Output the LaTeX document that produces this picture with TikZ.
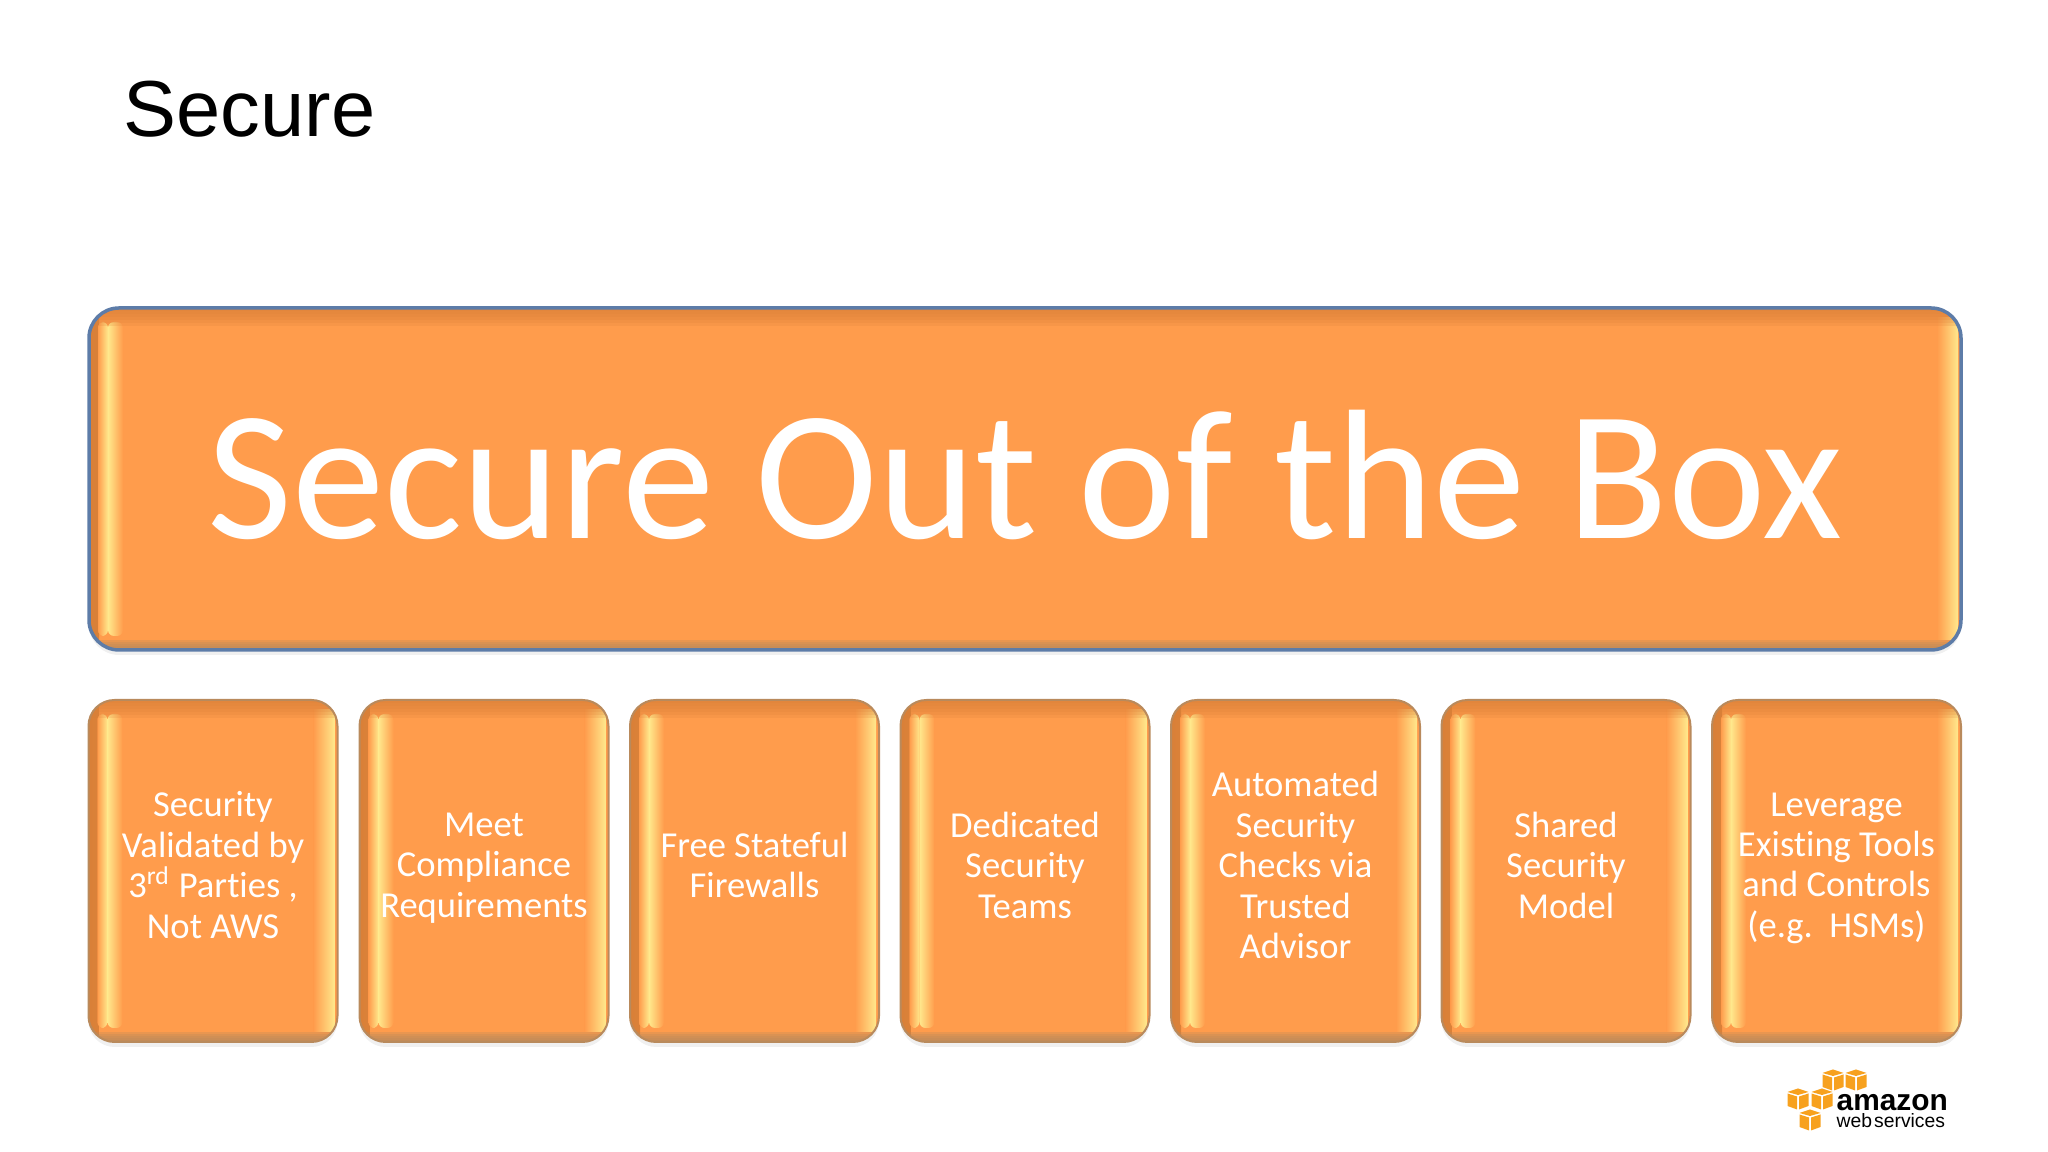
\documentclass[tikz,border=0pt]{standalone}
\usepackage{fontspec}
\setmainfont[Ligatures=NoCommon]{Carlito}
\newfontfamily\arialfont{Liberation Sans}
\usetikzlibrary{calc,shadows}

\definecolor{boxorange}{HTML}{FF9C4C}
\definecolor{boxedge}{HTML}{B98A5C}
\definecolor{boxblue}{HTML}{5D7CA8}
\definecolor{boxglow}{HTML}{FFE88C}
\definecolor{boxdark}{HTML}{D98038}
\definecolor{cubeorange}{HTML}{F7A11E}

\begin{document}
\begin{tikzpicture}[
    % gloss on the left and right side of a box, dark band on top
    gloss/.style = {path picture={
        \fill [left color=boxdark, right color=boxorange, sharp corners]
            (path picture bounding box.south west) rectangle
            ($(path picture bounding box.north west)+(.1cm,0)$);
        \fill [left color=boxorange, right color=boxglow, rounded corners=.06cm]
            ($(path picture bounding box.south west)+(.09cm,.14cm)$) rectangle
            ($(path picture bounding box.north west)+(.19cm,-.14cm)$);
        \fill [left color=boxglow, right color=boxorange, rounded corners=.06cm]
            ($(path picture bounding box.south west)+(.19cm,.14cm)$) rectangle
            ($(path picture bounding box.north west)+(.34cm,-.14cm)$);
        \fill [left color=boxorange, right color=boxglow, sharp corners]
            ($(path picture bounding box.south east)+(-.24cm,.1cm)$) rectangle
            ($(path picture bounding box.north east)+(-.03cm,-.1cm)$);
        \foreach \h in {.03,.06,.09,.12,.15,.18}
            \fill [boxdark, opacity=.2, sharp corners]
                (path picture bounding box.north west) rectangle
                ($(path picture bounding box.north east)+(0,-\h cm)$);
        \foreach \h in {.02,.04,.06,.08,.1}
            \fill [boxedge, opacity=.3, sharp corners]
                (path picture bounding box.south west) rectangle
                ($(path picture bounding box.south east)+(0,\h cm)$);
    }},
    bigbox/.style = {draw=boxblue, line width=.35mm, fill=boxorange, rounded corners=.3cm,
        gloss, text=white, minimum width=18.72cm, minimum height=3.42cm,
        drop shadow={shadow xshift=0cm, shadow yshift=-.05cm, opacity=.12},
        font=\fontsize{52.6}{60}\selectfont},
    tile/.style = {draw=boxedge, line width=.2mm, fill=boxorange, rounded corners=.26cm,
        gloss, text=white, minimum width=2.49cm, minimum height=3.42cm, align=center,
        drop shadow={shadow xshift=0cm, shadow yshift=-.05cm, opacity=.12},
        execute at begin node=\rule{0pt}{3.83mm}, execute at end node=\strut,
        font=\fontsize{10.4}{11.5}\selectfont},
    cube/.pic = {
        \fill [cubeorange] (-.105,.07) -- (0,.105) -- (.105,.07) -- (0,.04) -- cycle;
        \fill [cubeorange] (-.105,.055) -- (-.01,.025) -- (-.01,-.105) -- (-.105,-.07) -- cycle;
        \fill [cubeorange] (.105,.055) -- (.01,.025) -- (.01,-.105) -- (.105,-.07) -- cycle;
    }
    ]

    \useasboundingbox (0cm, 0cm) rectangle (20.48cm, 11.52cm);

    \coordinate (T1) at (2.13cm, 2.81cm);
    \coordinate (T2) at (4.84cm, 2.81cm);
    \coordinate (T3) at (7.545cm, 2.81cm);
    \coordinate (T4) at (10.25cm, 2.81cm);
    \coordinate (T5) at (12.955cm, 2.81cm);
    \coordinate (T6) at (15.66cm, 2.81cm);
    \coordinate (T7) at (18.365cm, 2.81cm);

    % title
    \node (Title) [anchor=base west, inner sep=0pt, font=\arialfont\fontsize{22.6}{26}\selectfont]
        at (1.23cm, 10.15cm) {Secure};

    % boxes
    \node (Main) [bigbox] at (10.25cm, 6.73cm) {\raisebox{.09cm}{Secure Out of the Box}};

    \node (Tile1) [tile] at (T1) {Security\\Validated by\\3\textsuperscript{rd} Parties ,\\Not AWS};
    \node (Tile2) [tile] at (T2) {Meet\\Compliance\\Requirements};
    \node (Tile3) [tile] at (T3) {Free Stateful\\Firewalls};
    \node (Tile4) [tile] at (T4) {Dedicated\\Security\\Teams};
    \node (Tile5) [tile] at (T5) {Automated\\Security\\Checks via\\Trusted\\Advisor};
    \node (Tile6) [tile] at (T6) {Shared\\Security\\Model};
    \node (Tile7) [tile] at (T7) {Leverage\\Existing Tools\\and Controls\\(e.g.\ \ HSMs)};

    % logo
    \pic at (18.33cm, 0.72cm) {cube};
    \pic at (18.56cm, 0.72cm) {cube};
    \pic at (17.98cm, 0.53cm) {cube};
    \pic at (18.22cm, 0.53cm) {cube};
    \pic at (18.10cm, 0.32cm) {cube};
    \node (Amazon) [anchor=base west, inner sep=0pt, font=\arialfont\bfseries\fontsize{8.5}{10}\selectfont]
        at (18.36cm, 0.41cm) {amazon};
    \node (Services) [anchor=base west, inner sep=0pt, font=\arialfont\fontsize{5.5}{6}\selectfont]
        at (18.36cm, 0.24cm) {web\hspace{.02cm}services};
\end{tikzpicture}
\end{document}
